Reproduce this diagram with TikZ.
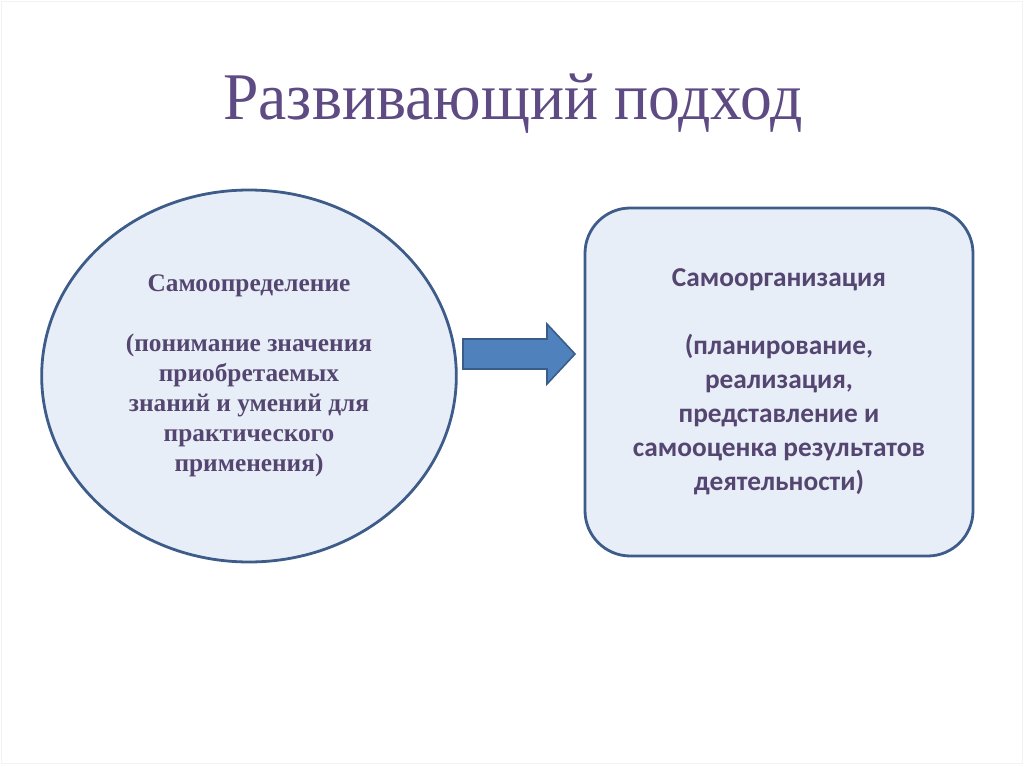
\documentclass[tikz,border=0pt]{standalone}
\usepackage{fontspec}
\setmainfont{Liberation Serif}
\newfontfamily\titlefont[FakeStretch=0.955]{Liberation Serif}
\newfontfamily\calibrifont{Carlito}
\usetikzlibrary{shapes.geometric}

\definecolor{titlecol}{RGB}{94,75,132}
\definecolor{textcol}{RGB}{84,70,112}
\definecolor{fillcol}{RGB}{232,238,247}
\definecolor{linecol}{RGB}{62,92,138}
\definecolor{arrowfill}{RGB}{79,129,189}
\definecolor{arrowline}{RGB}{56,93,138}

\begin{document}
\begin{tikzpicture}[x=0.75pt,y=-0.75pt,
  shapebox/.style={draw=linecol,line width=2.1pt,fill=fillcol,inner sep=0pt,align=center,text=textcol}]

\useasboundingbox (0,0) rectangle (1024,767);
\draw[black!5] (1,1) rectangle (1022,763);

% title
\node (title) at (513,104) [text=titlecol,font=\titlefont\fontsize{50}{55}\selectfont] {Развивающий подход};

% left ellipse
\node (self) at (249,376) [shapebox,ellipse,minimum width=311pt,minimum height=279pt,
  font=\bfseries\fontsize{19}{22.5}\selectfont]
  {Самоопределение\\[22.5pt]
   (понимание значения\\
   приобретаемых\\
   знаний и умений для\\
   практического\\
   применения)};

% right box
\node (org) at (779,382) [shapebox,rectangle,rounded corners=34pt,minimum width=291pt,minimum height=261pt,
  font=\calibrifont\bfseries\fontsize{20.5}{25.5}\selectfont]
  {Самоорганизация\\[25.5pt]
   (планирование,\\
   реализация,\\
   представление и\\
   самооценка результатов\\
   деятельности)};

% block arrow
\filldraw[fill=arrowfill,draw=arrowline,line width=1.2pt]
  (463,339) -- (547,339) -- (547,324) -- (575,354) -- (547,384) -- (547,369) -- (463,369) -- cycle;

\end{tikzpicture}
\end{document}
